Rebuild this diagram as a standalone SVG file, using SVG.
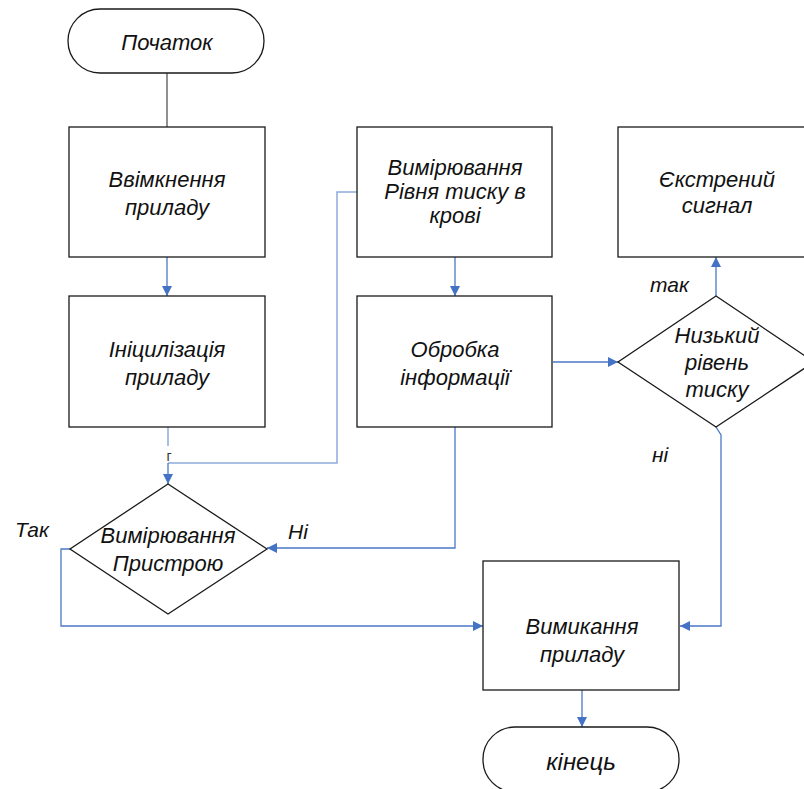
<svg xmlns="http://www.w3.org/2000/svg" width="804" height="789" viewBox="0 0 804 789">
<defs>
<style>
.shape{fill:#fff;stroke:#1a1a1a;stroke-width:1.3}
.t{font-family:"Liberation Sans",Arial,sans-serif;font-style:italic;font-size:22px;fill:#111;text-anchor:middle}
.lbl{font-family:"Liberation Sans",Arial,sans-serif;font-style:italic;font-size:21px;fill:#111}
.c{fill:none;stroke:#4a78c8;stroke-width:1.3}
.cl{fill:none;stroke:#8eaadb;stroke-width:1.5}
.g{fill:none;stroke:#555;stroke-width:1.3}
</style>
<marker id="arr" viewBox="0 0 10 10" refX="10" refY="5" markerWidth="10" markerHeight="10" markerUnits="userSpaceOnUse" orient="auto">
<path d="M0,0 L10,5 L0,10 z" fill="#4472c4"/>
</marker>
</defs>
<rect width="804" height="789" fill="#fff"/>
<g id="connectors">
<line class="g" x1="167" y1="73" x2="167" y2="127"/>
<line class="c" x1="167" y1="257" x2="167" y2="296" marker-end="url(#arr)"/>
<line class="cl" x1="168" y1="427" x2="168" y2="446"/>
<polyline class="cl" points="357,192 337,192 337,463 168,463"/>
<line class="c" x1="168" y1="463" x2="168" y2="484" marker-end="url(#arr)"/>
<line class="c" x1="455" y1="257" x2="455" y2="296" marker-end="url(#arr)"/>
<polyline class="c" points="455,427 455,548 267,548" marker-end="url(#arr)"/>
<line class="c" x1="553" y1="362" x2="618" y2="362" marker-end="url(#arr)"/>
<line class="c" x1="716" y1="296" x2="716" y2="257" marker-end="url(#arr)"/>
<polyline class="c" points="70,549 61,549 61,626 483,626" marker-end="url(#arr)"/>
<path class="c" d="M716,427 L721,435 L721,626 L680,626" marker-end="url(#arr)"/>
<line class="c" x1="582" y1="690" x2="582" y2="727" marker-end="url(#arr)"/>
<text x="169" y="461" font-family="Liberation Sans, Arial, sans-serif" font-size="14" fill="#333" text-anchor="middle">г</text>
</g>
<g id="start">
<rect class="shape" x="68" y="9" width="196" height="64" rx="32" ry="32"/>
<text class="t" x="167" y="50">Початок</text>
</g>
<g id="power-on">
<rect class="shape" x="69" y="127" width="196" height="130"/>
<text class="t" x="167" y="187">Ввімкнення</text>
<text class="t" x="167" y="215">приладу</text>
</g>
<g id="init">
<rect class="shape" x="69" y="296" width="196" height="131"/>
<text class="t" x="167" y="357">Ініцилізація</text>
<text class="t" x="167" y="385">приладу</text>
</g>
<g id="measure-device">
<polygon class="shape" points="168,484 267,549 168,614 70,549"/>
<text class="t" x="168" y="543">Вимірювання</text>
<text class="t" x="168" y="571">Пристрою</text>
</g>
<g id="measure-pressure">
<rect class="shape" x="357" y="127" width="195" height="130"/>
<text class="t" x="455" y="175">Вимірювання</text>
<text class="t" x="455" y="199">Рівня тиску в</text>
<text class="t" x="455" y="223">крові</text>
</g>
<g id="processing">
<rect class="shape" x="357" y="296" width="195" height="131"/>
<text class="t" x="455" y="357">Обробка</text>
<text class="t" x="455" y="385">інформації</text>
</g>
<g id="low-pressure">
<polygon class="shape" points="716,296 814,362 716,427 618,362"/>
<text class="t" x="717" y="343">Низький</text>
<text class="t" x="717" y="370">рівень</text>
<text class="t" x="717" y="397">тиску</text>
</g>
<g id="emergency">
<rect class="shape" x="618" y="127" width="200" height="130"/>
<text class="t" x="717" y="187">Єкстрений</text>
<text class="t" x="717" y="213">сигнал</text>
</g>
<g id="power-off">
<rect class="shape" x="483" y="561" width="196" height="129"/>
<text class="t" x="582" y="634">Вимикання</text>
<text class="t" x="582" y="662">приладу</text>
</g>
<g id="end">
<rect class="shape" x="483" y="727" width="196" height="65" rx="32" ry="32"/>
<text class="t" x="581" y="770" style="font-size:24px">кінець</text>
</g>
<g id="labels">
<text class="lbl" x="15" y="537">Так</text>
<text class="lbl" x="288" y="539">Ні</text>
<text class="lbl" x="650" y="292">так</text>
<text class="lbl" x="652" y="462">ні</text>
</g>
</svg>
